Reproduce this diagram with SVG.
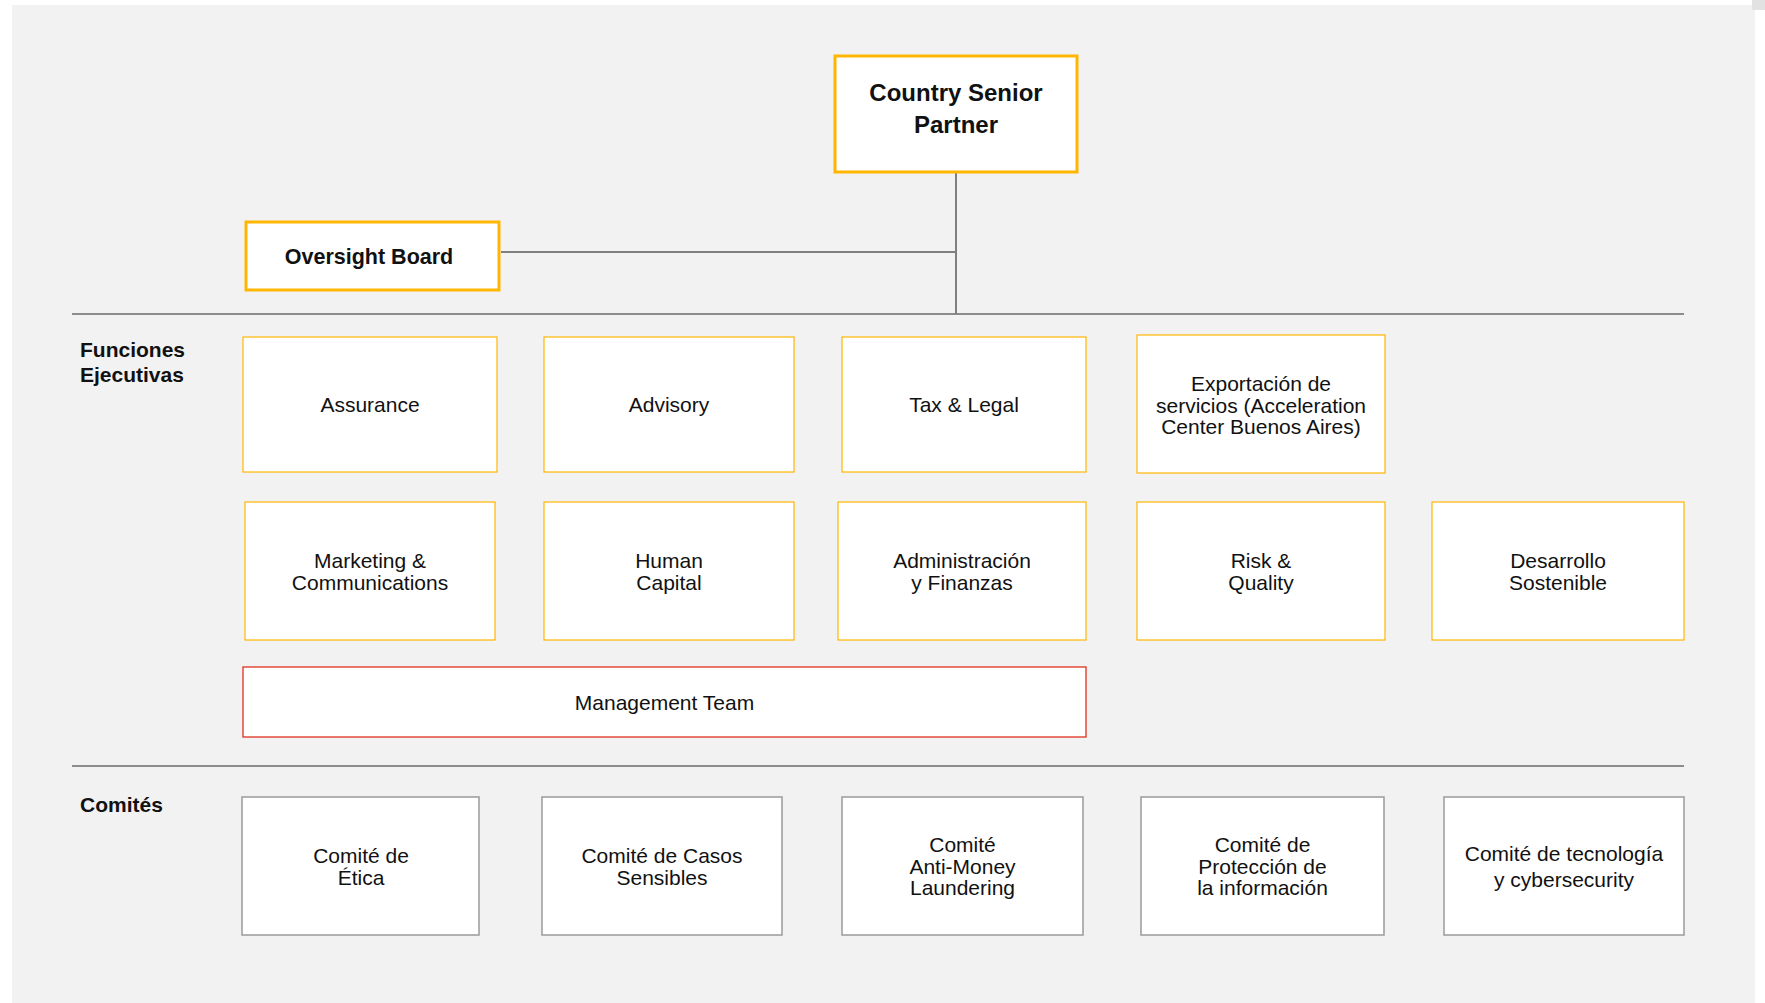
<svg xmlns="http://www.w3.org/2000/svg" width="1765" height="1003" viewBox="0 0 1765 1003">
<style>
text{font-family:"Liberation Sans",Arial,Helvetica,sans-serif;fill:#111;text-anchor:middle}
.b{font-weight:bold}
.lbl{font-weight:bold;text-anchor:start;font-size:21px}
.t{font-size:21px}
.top{fill:#fff;stroke:#FFB600;stroke-width:3}
.ex{fill:#fff;stroke:#FFB600;stroke-width:1.2}
.mt{fill:#fff;stroke:#E0301E;stroke-width:1.3}
.cm{fill:#fff;stroke:#9A9A9A;stroke-width:1.5}
.sep{stroke:#8C8C8C;stroke-width:2;fill:none}
.con{stroke:#7F7F7F;stroke-width:2;fill:none}
</style>
<rect x="0" y="0" width="1765" height="1003" fill="#fff"/>
<rect x="12" y="5" width="1743" height="998" fill="#F2F2F2"/>
<rect x="1752" y="0" width="13" height="10" fill="#E2E2E2"/>

<g id="separators">
<line class="sep" x1="72" y1="314" x2="1684" y2="314"/>
<line class="sep" x1="72" y1="766" x2="1684" y2="766"/>
</g>

<g id="connectors">
<line class="con" x1="956" y1="172" x2="956" y2="314"/>
<line class="con" x1="501" y1="252" x2="956" y2="252"/>
</g>

<g id="labels">
<text class="lbl" x="80" y="357">Funciones</text>
<text class="lbl" x="80" y="382">Ejecutivas</text>
<text class="lbl" x="80" y="812">Comités</text>
</g>

<g id="country-senior-partner">
<rect class="top" x="835" y="56" width="242" height="116"/>
<text class="b" x="956" y="101" font-size="24">Country Senior</text>
<text class="b" x="956" y="133" font-size="24">Partner</text>
</g>

<g id="oversight-board">
<rect class="top" x="246" y="222" width="253" height="68"/>
<text class="b" x="369" y="264" font-size="21.5">Oversight Board</text>
</g>

<g id="assurance">
<rect class="ex" x="243" y="337" width="254" height="135"/>
<text class="t" x="370" y="412">Assurance</text>
</g>
<g id="advisory">
<rect class="ex" x="544" y="337" width="250" height="135"/>
<text class="t" x="669" y="412">Advisory</text>
</g>
<g id="tax-legal">
<rect class="ex" x="842" y="337" width="244" height="135"/>
<text class="t" x="964" y="412">Tax &amp; Legal</text>
</g>
<g id="exportacion">
<rect class="ex" x="1137" y="335" width="248" height="138"/>
<text class="t" x="1261" y="391">Exportación de</text>
<text class="t" x="1261" y="412.5">servicios (Acceleration</text>
<text class="t" x="1261" y="434">Center Buenos Aires)</text>
</g>

<g id="marketing">
<rect class="ex" x="245" y="502" width="250" height="138"/>
<text class="t" x="370" y="568">Marketing &amp;</text>
<text class="t" x="370" y="590">Communications</text>
</g>
<g id="human-capital">
<rect class="ex" x="544" y="502" width="250" height="138"/>
<text class="t" x="669" y="568">Human</text>
<text class="t" x="669" y="590">Capital</text>
</g>
<g id="administracion">
<rect class="ex" x="838" y="502" width="248" height="138"/>
<text class="t" x="962" y="568">Administración</text>
<text class="t" x="962" y="590">y Finanzas</text>
</g>
<g id="risk-quality">
<rect class="ex" x="1137" y="502" width="248" height="138"/>
<text class="t" x="1261" y="568">Risk &amp;</text>
<text class="t" x="1261" y="590">Quality</text>
</g>
<g id="desarrollo">
<rect class="ex" x="1432" y="502" width="252" height="138"/>
<text class="t" x="1558" y="568">Desarrollo</text>
<text class="t" x="1558" y="590">Sostenible</text>
</g>

<g id="management-team">
<rect class="mt" x="243" y="667" width="843" height="70"/>
<text class="t" x="664.5" y="710">Management Team</text>
</g>

<g id="comite-etica">
<rect class="cm" x="242" y="797" width="237" height="138"/>
<text class="t" x="361" y="862.5">Comité de</text>
<text class="t" x="361" y="884.5">Ética</text>
</g>
<g id="comite-casos">
<rect class="cm" x="542" y="797" width="240" height="138"/>
<text class="t" x="662" y="862.5">Comité de Casos</text>
<text class="t" x="662" y="884.5">Sensibles</text>
</g>
<g id="comite-aml">
<rect class="cm" x="842" y="797" width="241" height="138"/>
<text class="t" x="962.5" y="852">Comité</text>
<text class="t" x="962.5" y="873.5">Anti-Money</text>
<text class="t" x="962.5" y="895">Laundering</text>
</g>
<g id="comite-proteccion">
<rect class="cm" x="1141" y="797" width="243" height="138"/>
<text class="t" x="1262.5" y="852">Comité de</text>
<text class="t" x="1262.5" y="873.5">Protección de</text>
<text class="t" x="1262.5" y="895">la información</text>
</g>
<g id="comite-tecnologia">
<rect class="cm" x="1444" y="797" width="240" height="138"/>
<text class="t" x="1564" y="861">Comité de tecnología</text>
<text class="t" x="1564" y="887">y cybersecurity</text>
</g>
</svg>
